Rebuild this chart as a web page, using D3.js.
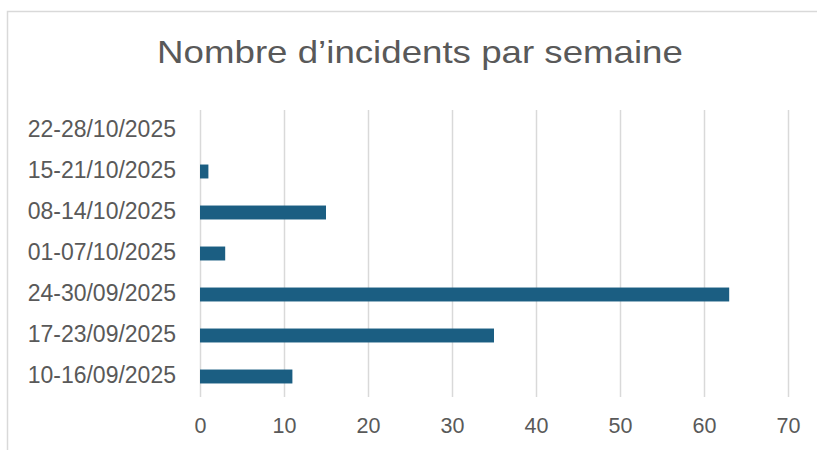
<!DOCTYPE html>
<html><head><meta charset="utf-8">
<script src="https://cdn.jsdelivr.net/npm/d3@7"></script>
<style>body{margin:0;background:#fff}svg{display:block}</style>
</head><body>
<svg id="c" width="817" height="450"></svg>
<script>
const title = "Nombre d’incidents par semaine";
const categories = ["10-16/09/2025","17-23/09/2025","24-30/09/2025","01-07/10/2025","08-14/10/2025","15-21/10/2025","22-28/10/2025"];
const values = [11, 35, 63, 3, 15, 1, 0];
const xTicks = [0,10,20,30,40,50,60,70];

const svg = d3.select("#c");
const font = "'Liberation Sans', Arial, sans-serif";
svg.append("rect").attr("x",7.5).attr("y",11.5).attr("width",830).attr("height",460)
  .attr("fill","#fff").attr("stroke","#d9d9d9").attr("stroke-width",1.5);

const t = svg.append("text").attr("x",0).attr("y",0).attr("text-anchor","middle")
  .attr("font-family",font).attr("font-size",30.5)
  .attr("fill","#595959").text(title);
// stretch horizontally to match the wider reference typeface
const tw = t.node().getComputedTextLength();
t.attr("transform",`translate(420,63) scale(${526/tw},1)`);

const x = d3.scaleLinear().domain([0,70]).range([200,788]);
const y = d3.scaleBand().domain(categories.slice().reverse()).range([110,397]).paddingInner(0.66).paddingOuter(0.33);

const gx = svg.append("g").attr("transform","translate(0,397)")
  .call(d3.axisBottom(x).tickValues(xTicks).tickSize(-(397-110)).tickPadding(21));
gx.select(".domain").remove();
gx.selectAll(".tick line").attr("stroke","#d9d9d9").attr("stroke-width",1.5);
gx.selectAll(".tick text").attr("font-family",font).attr("font-size",21.5).attr("fill","#595959").attr("dy","0.71em");

const gy = svg.append("g").attr("transform","translate(200,0)")
  .call(d3.axisLeft(y).tickSize(0).tickPadding(24));
gy.select(".domain").remove();
gy.selectAll(".tick text").attr("font-family",font).attr("font-size",23).attr("fill","#595959").attr("dy","0.3em");

svg.append("g").selectAll("rect").data(categories).join("rect")
  .attr("x",x(0)).attr("y",d=>y(d)).attr("height",y.bandwidth())
  .attr("width",(d,i)=>x(values[i])-x(0)).attr("fill","#1b5e82");
</script>
</body></html>
